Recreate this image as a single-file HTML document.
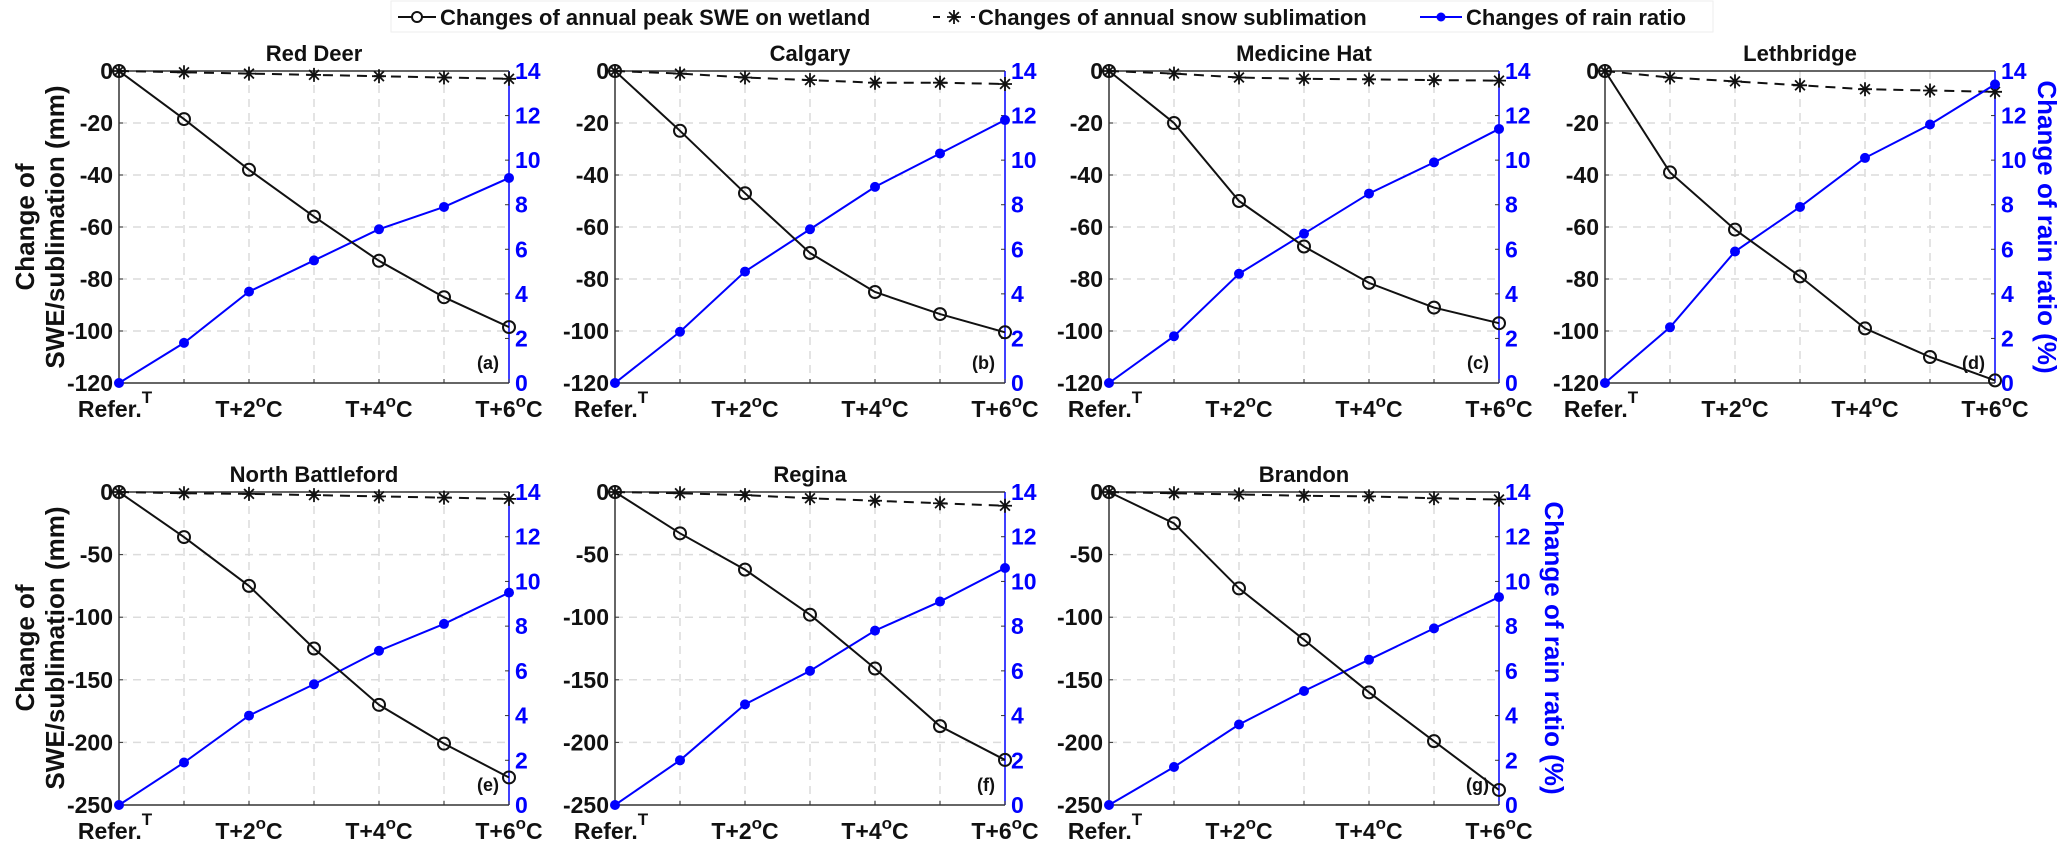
<!DOCTYPE html>
<html><head><meta charset="utf-8"><style>
html,body{margin:0;padding:0;background:#fff;}
svg{display:block;font-family:"Liberation Sans",Arial,sans-serif;}
</style></head><body>
<svg id="fig" width="2067" height="845" viewBox="0 0 2067 845"></svg>
<script>
const NS="http://www.w3.org/2000/svg";
const svg=document.getElementById('fig');
const titles=["Red Deer","Calgary","Medicine Hat","Lethbridge","North Battleford","Regina","Brandon"];
const letters=["(a)","(b)","(c)","(d)","(e)","(f)","(g)"];
const xCats=[0,1,2,3,4,5,6];
const xTickLabels=["Refer.","","T+2","","T+4","","T+6"];
const sweRedDeer=[0,-18.5,-38,-56,-73,-87,-98.5];
const subRedDeer=[0,-0.5,-1,-1.5,-2,-2.5,-3];
const rainRedDeer=[0,1.8,4.1,5.5,6.9,7.9,9.2];
const sweCalgary=[0,-23,-47,-70,-85,-93.5,-100.5];
const subCalgary=[0,-1,-2.5,-3.5,-4.5,-4.5,-5];
const rainCalgary=[0,2.3,5.0,6.9,8.8,10.3,11.8];
const sweMedHat=[0,-20,-50,-67.5,-81.5,-91,-97];
const subMedHat=[0,-1,-2.5,-3,-3.2,-3.5,-3.7];
const rainMedHat=[0,2.1,4.9,6.7,8.5,9.9,11.4];
const sweLeth=[0,-39,-61,-79,-99,-110,-119];
const subLeth=[0,-2.5,-4,-5.5,-7,-7.5,-8];
const rainLeth=[0,2.5,5.9,7.9,10.1,11.6,13.4];
const sweNB=[0,-36,-75,-125,-170,-201,-228];
const subNB=[0,-1,-1.5,-2.5,-3.5,-4.5,-5.5];
const rainNB=[0,1.9,4.0,5.4,6.9,8.1,9.5];
const sweRegina=[0,-33,-62,-98,-141,-187,-214];
const subRegina=[0,-1,-2.5,-5,-7,-9,-11];
const rainRegina=[0,2.0,4.5,6.0,7.8,9.1,10.6];
const sweBrandon=[0,-25,-77,-118,-160,-199,-238];
const subBrandon=[0,-1,-2,-3,-3.5,-5,-6];
const rainBrandon=[0,1.7,3.6,5.1,6.5,7.9,9.3];
const leftTicksTop=[0,-20,-40,-60,-80,-100,-120];
const leftTicksBottom=[0,-50,-100,-150,-200,-250];
const rightTicks=[0,2,4,6,8,10,12,14];

const sweAll=[sweRedDeer,sweCalgary,sweMedHat,sweLeth,sweNB,sweRegina,sweBrandon];
const subAll=[subRedDeer,subCalgary,subMedHat,subLeth,subNB,subRegina,subBrandon];
const rainAll=[rainRedDeer,rainCalgary,rainMedHat,rainLeth,rainNB,rainRegina,rainBrandon];

function el(tag,attrs,parent){const e=document.createElementNS(NS,tag);for(const k in attrs)e.setAttribute(k,attrs[k]);(parent||svg).appendChild(e);return e;}
function txt(s,attrs,parent){const t=el('text',attrs,parent);t.textContent=s;return t;}
function star(x,y,parent){
  const s=7;
  const d=`M${x-s},${y}H${x+s}M${x},${y-s}V${y+s}M${x-s*0.7},${y-s*0.7}L${x+s*0.7},${y+s*0.7}M${x-s*0.7},${y+s*0.7}L${x+s*0.7},${y-s*0.7}`;
  return el('path',{d:d,stroke:'#111','stroke-width':1.8,fill:'none'},parent);
}

const lefts=[119,615,1109,1605];
const W=390;
const rows=[{top:71,bot:383},{top:492,bot:805}];

for(let p=0;p<7;p++){
  const r=p<4?0:1, c=p<4?p:p-4;
  const L=lefts[c],R=L+W,T=rows[r].top,B=rows[r].bot;
  const yMin=r===0?-120:-250;
  const lt=r===0?leftTicksTop:leftTicksBottom;
  const g=el('g',{});
  
  
  const xs=v=>L+v/6*W;
  const ys=v=>T+(0-v)/(0-yMin)*(B-T);
  const yr=v=>B-v/14*(B-T);
  xCats.forEach(v=>{if(v>0&&v<6){const l=el('line',{x1:xs(v),x2:xs(v),y1:T,y2:B,stroke:'#dcdcdc','stroke-width':1.5,'stroke-dasharray':'8,6'},g);}});
  lt.forEach(v=>{if(v!==0&&v!==yMin){const l=el('line',{x1:L,x2:R,y1:ys(v),y2:ys(v),stroke:'#dcdcdc','stroke-width':1.5,'stroke-dasharray':'8,6'},g);}});
  el('line',{x1:L,x2:R,y1:T,y2:T,stroke:'#333','stroke-width':1.5},g);
  el('line',{x1:L,x2:R,y1:B,y2:B,stroke:'#333','stroke-width':1.5},g);
  el('line',{x1:L,x2:L,y1:T,y2:B,stroke:'#333','stroke-width':1.5},g);
  el('line',{x1:R,x2:R,y1:T,y2:B,stroke:'#0000ff','stroke-width':1.5},g);
  lt.forEach(v=>{
    el('line',{x1:L,x2:L+4,y1:ys(v),y2:ys(v),stroke:'#333'},g);
    const t=txt(String(v),{x:L-6,y:ys(v)+8,'text-anchor':'end','font-size':23,'font-weight':'bold',fill:'#111'},g);
    
  });
  rightTicks.forEach(v=>{
    el('line',{x1:R-4,x2:R,y1:yr(v),y2:yr(v),stroke:'#333'},g);
    const t=txt(String(v),{x:R+6,y:yr(v)+8,'font-size':23,'font-weight':'bold',fill:'#0000ff'},g);
    
  });
  xCats.forEach((v,i)=>{
    el('line',{x1:xs(v),x2:xs(v),y1:B-4,y2:B,stroke:'#333'},g);
    const s=xTickLabels[i];
    if(!s)return;
    let t;
    if(s==='Refer.'){
      t=txt('',{x:xs(v)-4,y:B+34,'text-anchor':'middle','font-size':23,'font-weight':'bold',fill:'#111'},g);
      t.innerHTML='Refer.<tspan dy="-14" font-size="17">T</tspan>';
    }else{
      t=txt('',{x:xs(v),y:B+34,'text-anchor':'middle','font-size':23,'font-weight':'bold',fill:'#111'},g);
      t.innerHTML=s+'<tspan dy="-10" font-size="17">o</tspan><tspan dy="10">C</tspan>';
    }
    
  });
  const tt=txt(titles[p],{x:(L+R)/2,y:T-10,'text-anchor':'middle','font-size':22,'font-weight':'bold',fill:'#111'},g);
  
  const lt2=txt(letters[p],{x:R-10,y:B-14,'text-anchor':'end','font-size':18,'font-weight':'bold',fill:'#111'},g);
  
  const swe=sweAll[p],sub=subAll[p],rain=rainAll[p];
  const pl1=el('polyline',{points:xCats.map((v,i)=>xs(v)+','+ys(sub[i])).join(' '),fill:'none',stroke:'#111','stroke-width':2,'stroke-dasharray':'10,7'},g);
  
  xCats.forEach((v,i)=>{const s=star(xs(v),ys(sub[i]),g);});
  const pl2=el('polyline',{points:xCats.map((v,i)=>xs(v)+','+yr(rain[i])).join(' '),fill:'none',stroke:'#0000ff','stroke-width':2},g);
  
  xCats.forEach((v,i)=>{const c2=el('circle',{cx:xs(v),cy:yr(rain[i]),r:5,fill:'#0000ff'},g);});
  const pl3=el('polyline',{points:xCats.map((v,i)=>xs(v)+','+ys(swe[i])).join(' '),fill:'none',stroke:'#111','stroke-width':2},g);
  
  xCats.forEach((v,i)=>{const c3=el('circle',{cx:xs(v),cy:ys(swe[i]),r:6,fill:'none',stroke:'#111','stroke-width':2},g);});
}
[227,648].forEach((cy,i)=>{
  const t1=txt('Change of',{x:0,y:0,'text-anchor':'middle','font-size':26,'font-weight':'bold',fill:'#111',transform:`translate(34,${cy}) rotate(-90)`});
  
  const t2=txt('SWE/sublimation (mm)',{x:0,y:0,'text-anchor':'middle','font-size':26,'font-weight':'bold',fill:'#111',transform:`translate(64,${cy}) rotate(-90)`});
  
});
const r1=txt('Change of rain ratio (%)',{x:0,y:0,'text-anchor':'middle','font-size':26,'font-weight':'bold',fill:'#0000ff',transform:'translate(2038,227) rotate(90)'});

const r2=txt('Change of rain ratio (%)',{x:0,y:0,'text-anchor':'middle','font-size':26,'font-weight':'bold',fill:'#0000ff',transform:'translate(1545,648) rotate(90)'});

const lg=el('g',{});

el('rect',{x:391,y:1,width:1322,height:31,fill:'#fff',stroke:'#eee'},lg);
el('line',{x1:398,x2:436,y1:17,y2:17,stroke:'#111','stroke-width':2},lg);
el('circle',{cx:417,cy:17,r:5,fill:'#fff',stroke:'#111','stroke-width':2},lg);
const l1=txt('Changes of annual peak SWE on wetland',{x:440,y:25,'font-size':22,'font-weight':'bold',fill:'#111'},lg);

el('line',{x1:933,x2:975,y1:17,y2:17,stroke:'#111','stroke-width':2,'stroke-dasharray':'7,12'},lg);
star(954,17,lg);
const l2=txt('Changes of annual snow sublimation',{x:978,y:25,'font-size':22,'font-weight':'bold',fill:'#111'},lg);

el('line',{x1:1420,x2:1462,y1:17,y2:17,stroke:'#0000ff','stroke-width':2},lg);
el('circle',{cx:1441,cy:17,r:4.5,fill:'#0000ff'},lg);
const l3=txt('Changes of rain ratio',{x:1466,y:25,'font-size':22,'font-weight':'bold',fill:'#111'},lg);

</script>
</body></html>
